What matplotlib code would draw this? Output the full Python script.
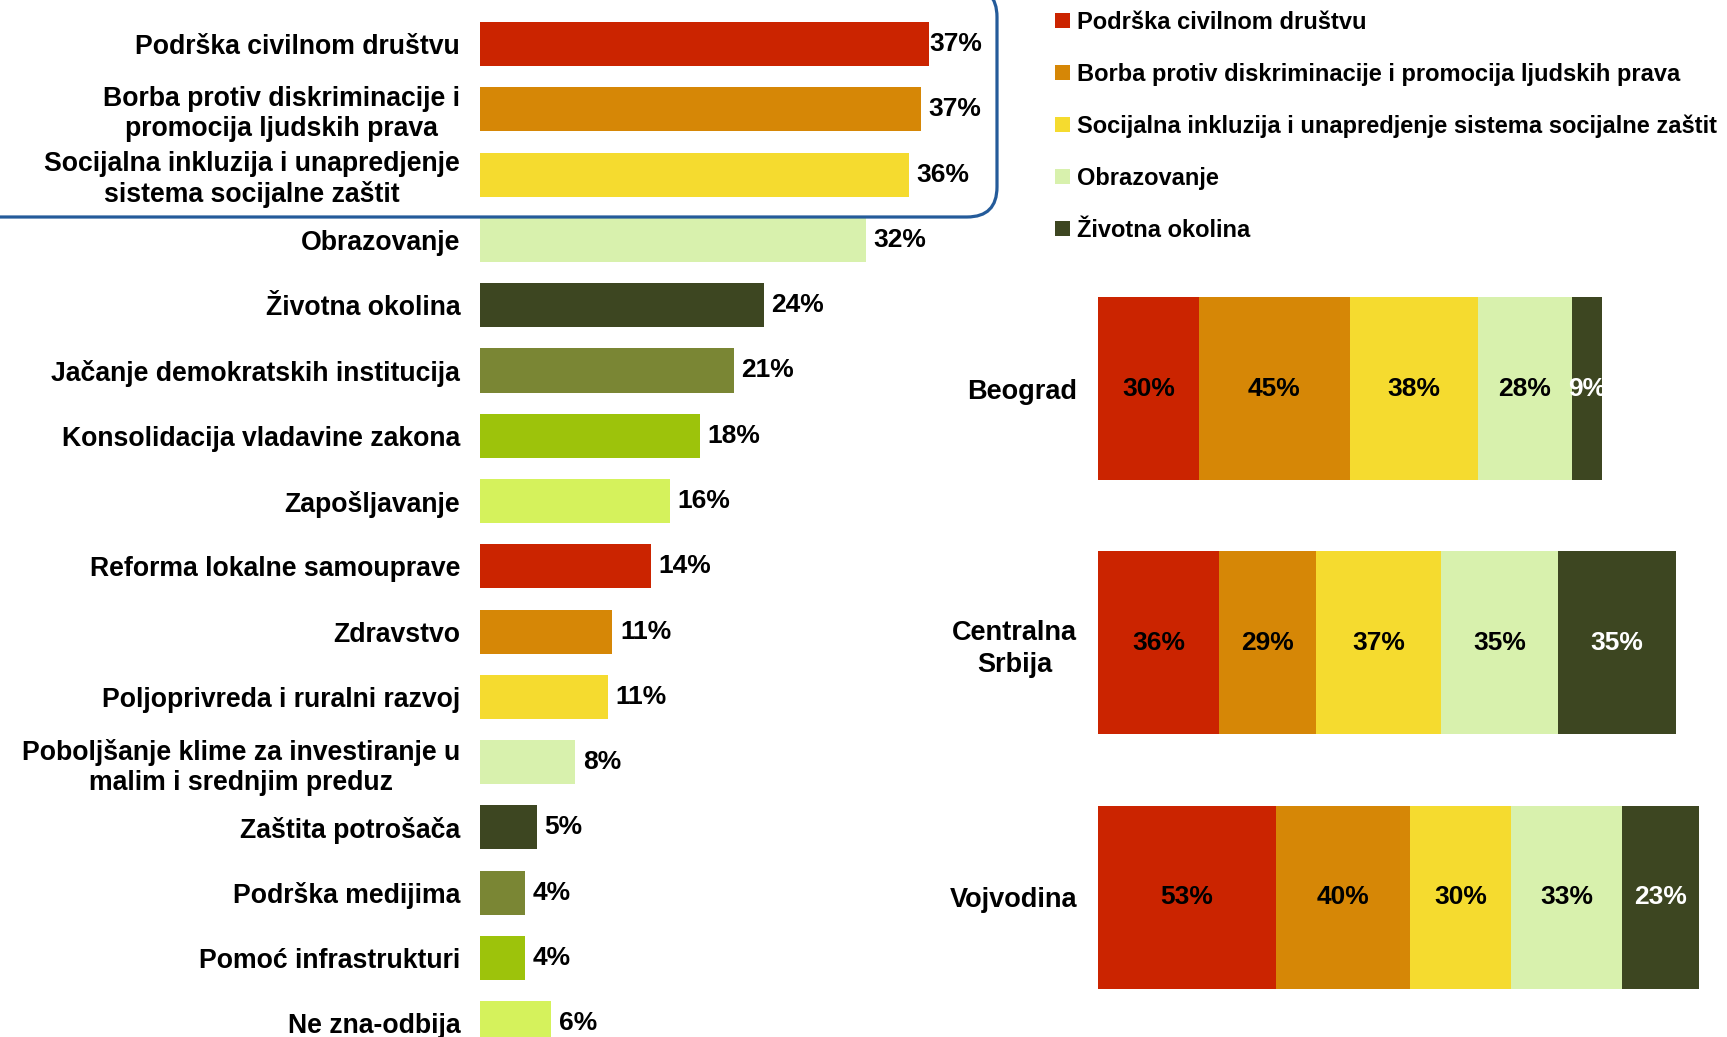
import numpy as np
import matplotlib.pyplot as plt
from matplotlib.patches import FancyBboxPatch, Patch

plt.rcParams['font.family'] = ['Liberation Sans', 'DejaVu Sans']
plt.rcParams['font.weight'] = 'bold'

# ---- data ---------------------------------------------------------------
oblasti = ['Podrška civilnom društvu',
           'Borba protiv diskriminacije i\npromocija ljudskih prava',
           'Socijalna inkluzija i unapredjenje\nsistema socijalne zaštit',
           'Obrazovanje',
           'Životna okolina',
           'Jačanje demokratskih institucija',
           'Konsolidacija vladavine zakona',
           'Zapošljavanje',
           'Reforma lokalne samouprave',
           'Zdravstvo',
           'Poljoprivreda i ruralni razvoj',
           'Poboljšanje klime za investiranje u\nmalim i srednjim preduz',
           'Zaštita potrošača',
           'Podrška medijima',
           'Pomoć infrastrukturi',
           'Ne zna-odbija']
procenti = [37.4, 36.7, 35.7, 32.1, 23.6, 21.1, 18.3, 15.8,
            14.2, 11.0, 10.6, 7.9, 4.7, 3.7, 3.7, 5.9]

regioni = ['Beograd', 'Centralna\nSrbija', 'Vojvodina']
serije = ['Podrška civilnom društvu',
          'Borba protiv diskriminacije i promocija ljudskih prava',
          'Socijalna inkluzija i unapredjenje sistema socijalne zaštit',
          'Obrazovanje',
          'Životna okolina']
region_vals = {
    'Podrška civilnom društvu': [30, 36, 53],
    'Borba protiv diskriminacije': [45, 29, 40],
    'Socijalna inkluzija': [38, 37, 30],
    'Obrazovanje': [28, 35, 33],
    'Životna okolina': [9, 35, 23],
}

boje = ['#CB2400', '#D68706', '#F5DB2F', '#D8F1AD',
        '#3D4621', '#7A8634', '#9DC30B', '#D5F25C']

# ---- figure -------------------------------------------------------------
fig = plt.figure(figsize=(17.27, 10.37), dpi=100)

# levi grafikon
ax1 = fig.add_axes([0.2781, 0.0, 0.296, 1.0])
y = np.arange(len(oblasti))
ax1.barh(y, procenti, height=0.675, color=[boje[i % 8] for i in y])
ax1.set_ylim(15.21, -0.675)
ax1.set_xlim(0, 42.57)
ax1.set_yticks(y)
ax1.set_yticklabels(oblasti, fontsize=19.2)
for lbl in ax1.get_yticklabels():
    lbl.set_multialignment('center')
    lbl.set_linespacing(1.2)
ax1.tick_params(axis='y', length=0, pad=14.5)
ax1.set_xticks([])
for s in ax1.spines.values():
    s.set_visible(False)
for i, v in enumerate(procenti):
    off = 0 if i == 0 else 5.5
    ax1.annotate(f'{round(v)}%', (v, i), xytext=(off, 0), textcoords='offset points',
                 va='center', ha='left', fontsize=19, fontweight='bold')

# okvir oko prva tri
box = FancyBboxPatch((-3.0, 8.20), 12.97, 2.3, boxstyle='round,pad=0,rounding_size=0.3',
                     transform=fig.dpi_scale_trans, fill=False, edgecolor='#245B9A',
                     linewidth=2.3, clip_on=False)
fig.patches.append(box)

# desni grafikon - po regionima
ax2 = fig.add_axes([0.6358, 0.0122, 0.3642, 0.7357])
yr = np.arange(len(regioni))
left = np.zeros(len(regioni))
for k, (key, vals) in enumerate(region_vals.items()):
    ax2.barh(yr, vals, left=left, height=0.72, color=boje[k])
    for j, v in enumerate(vals):
        ax2.text(left[j] + v / 2, j, f'{v}%', ha='center', va='center', fontsize=19,
                 fontweight='bold', color='white' if k == 4 else 'black')
    left += vals
ax2.set_ylim(2.5, -0.5)
ax2.set_xlim(0, 187.2)
ax2.set_yticks(yr)
ax2.set_yticklabels(regioni, fontsize=19.5)
for lbl in ax2.get_yticklabels():
    lbl.set_multialignment('center')
    lbl.set_linespacing(1.3)
ax2.tick_params(axis='y', length=0, pad=15)
ax2.set_xticks([])
for s in ax2.spines.values():
    s.set_visible(False)

handles = [Patch(facecolor=boje[k]) for k in range(5)]
fig.legend(handles, serije, loc='upper left', bbox_to_anchor=(0.611, 0.9895), frameon=False,
           fontsize=17, handlelength=0.62, handleheight=0.62, handletextpad=0.3,
           labelspacing=1.22, borderaxespad=0, borderpad=0)

plt.savefig('out.png', dpi=100)
